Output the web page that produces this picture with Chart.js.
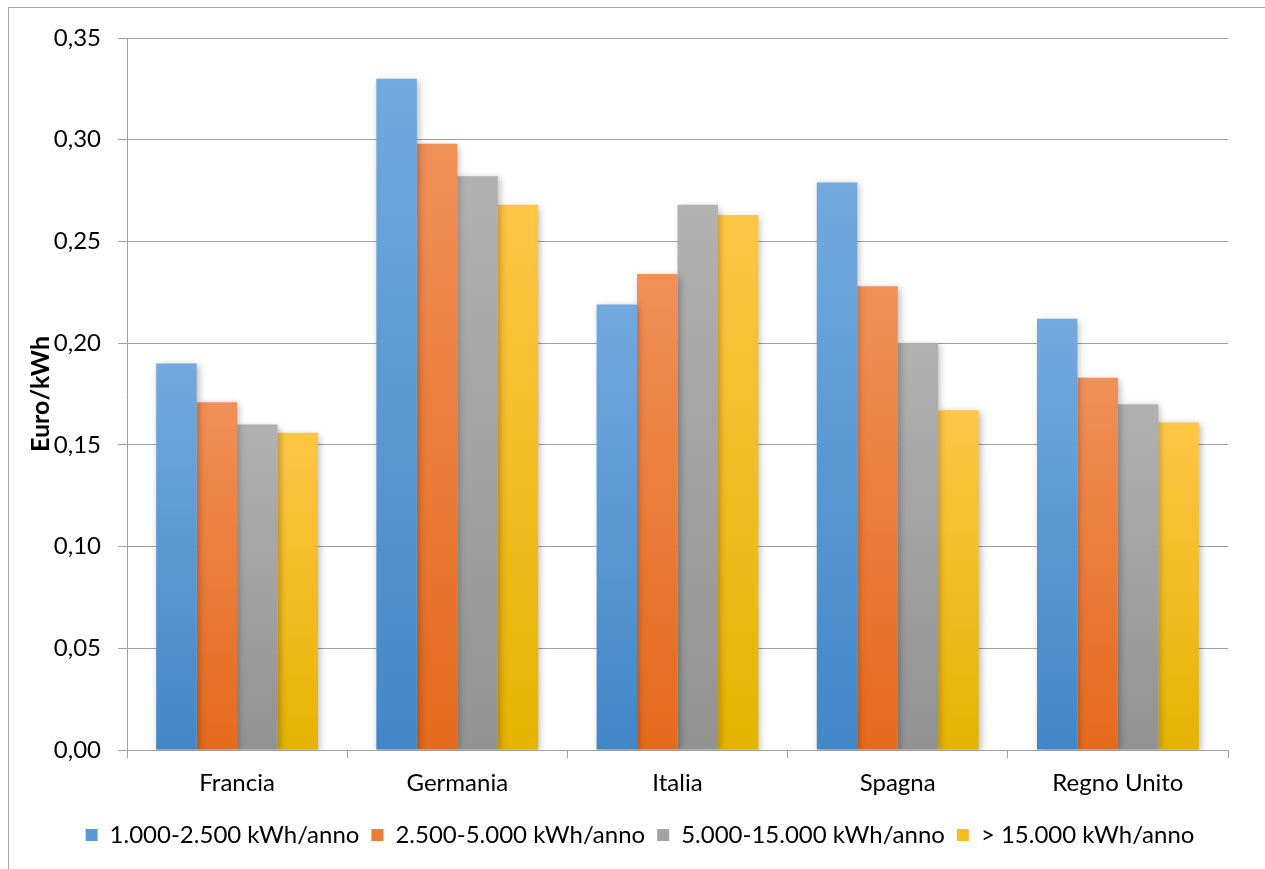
<!DOCTYPE html>
<html>
<head>
<meta charset="utf-8">
<script src="https://cdn.jsdelivr.net/npm/chart.js@4"></script>
<style>
html,body{margin:0;padding:0;background:#fff;}
#wrap{width:1265px;height:869px;position:relative;}
</style>
</head>
<body>
<div id="wrap"><canvas id="c" width="1265" height="869"></canvas></div>
<script>
const categories = ["Francia", "Germania", "Italia", "Spagna", "Regno Unito"];
const seriesNames = ["1.000-2.500 kWh/anno", "2.500-5.000 kWh/anno", "5.000-15.000 kWh/anno", "> 15.000 kWh/anno"];
const s1 = [0.190, 0.330, 0.219, 0.279, 0.212];
const s2 = [0.171, 0.298, 0.234, 0.228, 0.183];
const s3 = [0.160, 0.282, 0.268, 0.200, 0.170];
const s4 = [0.156, 0.268, 0.263, 0.167, 0.161];
const yTicks = [0, 0.05, 0.10, 0.15, 0.20, 0.25, 0.30, 0.35];

const topCols = ["#72a9de", "#f18f58", "#b1b1b1", "#ffc646"];
const botCols = ["#4187c8", "#e4691b", "#929292", "#e5b300"];
const midCols = ["#5b99d4", "#ec7c3a", "#a3a3a3", "#f6bd20"];

function grad(i){
  return function(c){
    const chart = c.chart;
    const area = chart.chartArea;
    if (!area || c.type !== 'data' || !chart.scales.y) return midCols[i];
    const v = c.raw;
    const y0 = chart.scales.y.getPixelForValue(v);
    const y1 = chart.scales.y.getPixelForValue(0);
    if (!isFinite(y0) || !isFinite(y1) || y0 === y1) return midCols[i];
    const g = chart.ctx.createLinearGradient(0, y0, 0, y1);
    g.addColorStop(0, topCols[i]);
    g.addColorStop(1, botCols[i]);
    return g;
  };
}

const FONT = "Lato, 'Open Sans', sans-serif";

const shadowPlugin = {
  id: 'shadow',
  beforeDatasetsDraw(chart){
    const ctx = chart.ctx;
    ctx.save();
    ctx.shadowColor = 'rgba(0,0,0,0.28)';
    ctx.shadowBlur = 7;
    ctx.shadowOffsetX = 2;
    ctx.shadowOffsetY = 2;
  },
  afterDatasetsDraw(chart){
    chart.ctx.restore();
  }
};

const borderPlugin = {
  id: 'outerBorder',
  beforeDraw(chart){
    const ctx = chart.ctx;
    ctx.save();
    ctx.fillStyle = '#ffffff';
    ctx.fillRect(0,0,chart.width,chart.height);
    ctx.strokeStyle = '#a6a6a6';
    ctx.lineWidth = 1;
    ctx.strokeRect(8.5, 7.5, chart.width + 20, chart.height + 20);
    ctx.restore();
  }
};

const legendShift = {
  id: 'legendShift',
  afterLayout(chart){
    if (chart.legend) {
      chart.legend.left += 26;
      chart.legend.right += 26;
    }
  }
};

const allSeries = [s1, s2, s3, s4];

new Chart(document.getElementById('c'), {
  type: 'bar',
  data: {
    labels: categories,
    datasets: allSeries.map((d, i) => ({
      label: seriesNames[i],
      data: d,
      backgroundColor: grad(i),
      borderWidth: 0,
      barPercentage: 1.0,
      categoryPercentage: 0.735
    }))
  },
  options: {
    responsive: false,
    animation: false,
    devicePixelRatio: 1,
    layout: { padding: { top: 38, right: 37, left: 0, bottom: 12 } },
    scales: {
      x: {
        grid: { drawOnChartArea: false, drawTicks: true, tickLength: 8, color: '#a0a0a0', offset: true },
        border: { color: '#a0a0a0' },
        ticks: { color: '#000', font: { family: FONT, size: 24 }, padding: 11 },
        afterFit(scale){ scale.height = 61; }
      },
      y: {
        min: 0, max: 0.35,
        afterBuildTicks(scale){ scale.ticks = yTicks.map(v => ({ value: v })); },
        grid: { color: '#a0a0a0', tickLength: 9, drawTicks: true },
        border: { color: '#a0a0a0' },
        ticks: {
          color: '#000', font: { family: FONT, size: 24 }, padding: 17,
          callback: v => Number(v).toFixed(2).replace('.', ',')
        },
        title: { display: true, text: 'Euro/kWh', color: '#000', font: { family: FONT, size: 25, weight: 'bold' }, padding: { top: 26, bottom: 0 } },
        afterFit(scale){ scale.width = 127; }
      }
    },
    plugins: {
      legend: {
        position: 'bottom',
        labels: {
          color: '#000',
          font: { family: FONT, size: 24 },
          boxWidth: 12, boxHeight: 12,
          padding: 12,
          generateLabels(chart){
            return chart.data.datasets.map((ds, i) => ({
              text: ds.label, fillStyle: midCols[i], strokeStyle: midCols[i], lineWidth: 0,
              hidden: false, datasetIndex: i, fontColor: '#000'
            }));
          }
        }
      },
      tooltip: { enabled: false }
    }
  },
  plugins: [borderPlugin, shadowPlugin, legendShift]
});
</script>
</body>
</html>
